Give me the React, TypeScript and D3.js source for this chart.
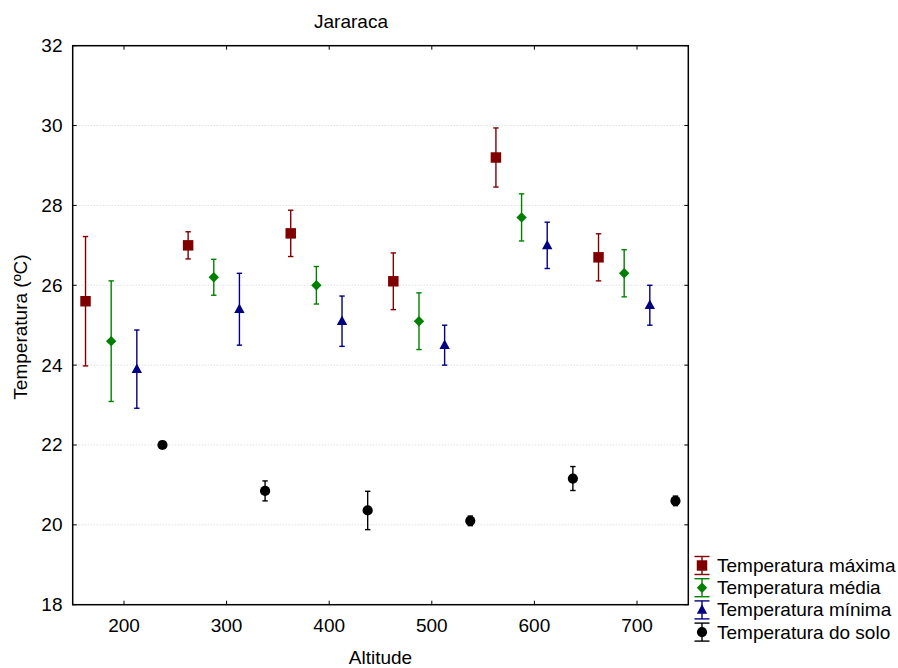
import React from "react";
import * as d3 from "d3";

const altitudes = [200, 300, 400, 500, 600, 700];
const maxMean = [25.6, 27.0, 27.3, 26.1, 29.2, 26.7];
const maxErr = [1.62, 0.34, 0.58, 0.71, 0.74, 0.59];
const medMean = [24.6, 26.2, 26.0, 25.1, 27.7, 26.3];
const medErr = [1.51, 0.45, 0.47, 0.71, 0.59, 0.59];
const minMean = [23.9, 25.4, 25.1, 24.5, 27.0, 25.5];
const minErr = [0.98, 0.9, 0.63, 0.5, 0.58, 0.5];
const soloMean = [22.0, 20.85, 20.36, 20.1, 21.16, 20.6];
const soloErr = [0.05, 0.25, 0.48, 0.12, 0.3, 0.12];
const seriesNames = ["Temperatura máxima", "Temperatura média", "Temperatura mínima", "Temperatura do solo"];
const xTicks = [200, 300, 400, 500, 600, 700];
const yTicks = [18, 20, 22, 24, 26, 28, 30, 32];

const W = 898, H = 668;
const L = 72.7, R = 688.3, T = 45.7, B = 604.7;
const FONT = "Arial, 'Liberation Sans', sans-serif";

type Series = { name: string; mean: number[]; err: number[]; offset: number; color: string; shape: string };
const series: Series[] = [
  { name: seriesNames[0], mean: maxMean, err: maxErr, offset: -37.5, color: "#800000", shape: "square" },
  { name: seriesNames[1], mean: medMean, err: medErr, offset: -12.5, color: "#008000", shape: "diamond" },
  { name: seriesNames[2], mean: minMean, err: minErr, offset: 12.5, color: "#000080", shape: "triangle" },
  { name: seriesNames[3], mean: soloMean, err: soloErr, offset: 37.5, color: "#000000", shape: "circle" },
];

const symPath = (shape: string) => {
  if (shape === "diamond") {
    const r = 5.2;
    return `M0,${-r}L${r},0L0,${r}L${-r},0Z`;
  }
  if (shape === "triangle") {
    const h = 9.5, w = 5.2;
    return `M0,${-h * 0.6}L${w},${h * 0.4}L${-w},${h * 0.4}Z`;
  }
  const t = shape === "square" ? d3.symbolSquare : d3.symbolCircle;
  const size = shape === "square" ? 110 : 82;
  return d3.symbol(t, size)() as string;
};

export default function App() {
  const x = d3.scaleLinear().domain([150, 750]).range([L, R]);
  const y = d3.scaleLinear().domain([18, 32]).range([B, T]);
  const cap = 2.7;
  return (
    <svg width={W} height={H} style={{ position: "absolute", left: 0, top: 0, background: "#fff" }} fontFamily={FONT}>
      {yTicks.filter((v) => v > 18 && v < 32).map((v) => (
        <line key={"g" + v} x1={L} x2={R} y1={y(v)} y2={y(v)} stroke="#d0d0d0" strokeWidth={1} strokeDasharray="1,2" />
      ))}
      <rect x={L} y={T} width={R - L} height={B - T} fill="none" stroke="#000" strokeWidth={1.5} />
      {xTicks.map((v) => (
        <g key={"xt" + v}>
          <line x1={x(v)} x2={x(v)} y1={B} y2={B - 4} stroke="#000" />
          <line x1={x(v)} x2={x(v)} y1={T} y2={T + 4} stroke="#000" />
          <text x={x(v)} y={632} textAnchor="middle" fontSize={19}>{v}</text>
        </g>
      ))}
      {yTicks.map((v) => (
        <g key={"yt" + v}>
          <line x1={L} x2={L + 4} y1={y(v)} y2={y(v)} stroke="#000" />
          <line x1={R} x2={R - 4} y1={y(v)} y2={y(v)} stroke="#000" />
          <text x={62.5} y={y(v)} textAnchor="end" dominantBaseline="central" fontSize={19}>{v}</text>
        </g>
      ))}
      <text x={351} y={28} textAnchor="middle" fontSize={19}>Jararaca</text>
      <text x={380.5} y={664} textAnchor="middle" fontSize={19}>Altitude</text>
      <text transform={`translate(27,327) rotate(-90)`} textAnchor="middle" fontSize={19}>Temperatura (ºC)</text>
      {series.map((s) => (
        <g key={s.name}>
          {altitudes.map((a, i) => {
            const cx = x(a + s.offset);
            const y1 = y(s.mean[i] + s.err[i]);
            const y0 = y(s.mean[i] - s.err[i]);
            return (
              <g key={a}>
                <line x1={cx} x2={cx} y1={y1} y2={y0} stroke={s.color} strokeWidth={1.4} />
                <line x1={cx - cap} x2={cx + cap} y1={y1} y2={y1} stroke={s.color} strokeWidth={1.4} />
                <line x1={cx - cap} x2={cx + cap} y1={y0} y2={y0} stroke={s.color} strokeWidth={1.4} />
                <path d={symPath(s.shape)} transform={`translate(${cx},${y(s.mean[i])})`} fill={s.color} />
              </g>
            );
          })}
        </g>
      ))}
      {series.map((s, i) => {
        const cy = 565.5 + i * 22.2;
        const lx = 702;
        return (
          <g key={"lg" + s.name}>
            <line x1={lx} x2={lx} y1={cy - 9} y2={cy + 9} stroke={s.color} strokeWidth={1.4} />
            <line x1={lx - 7.5} x2={lx + 7.5} y1={cy - 9} y2={cy - 9} stroke={s.color} strokeWidth={1.4} />
            <line x1={lx - 7.5} x2={lx + 7.5} y1={cy + 9} y2={cy + 9} stroke={s.color} strokeWidth={1.4} />
            <path d={symPath(s.shape)} transform={`translate(${lx},${cy})`} fill={s.color} />
            <text x={717} y={cy} dominantBaseline="central" fontSize={19}>{s.name}</text>
          </g>
        );
      })}
    </svg>
  );
}
